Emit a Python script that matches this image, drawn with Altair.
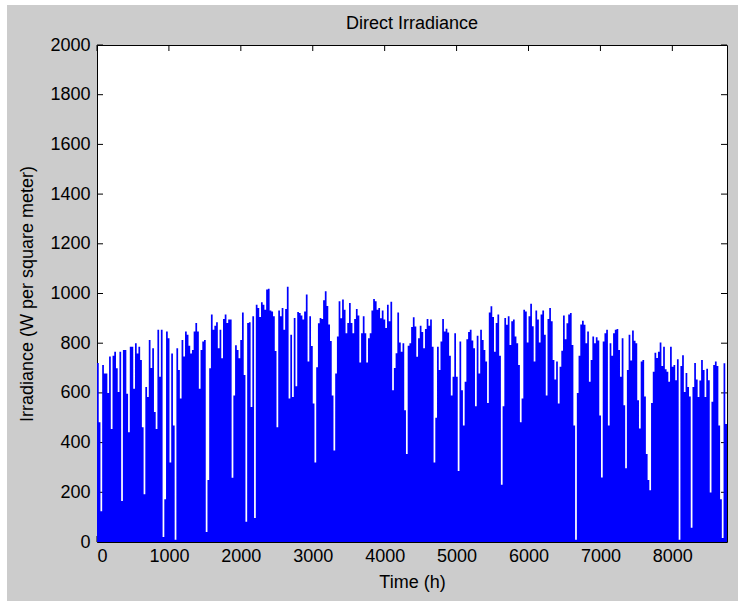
import altair as alt
import pandas as pd

# Daily peak of direct irradiance (W per square meter), one value per day,
# split into blocks of consecutive days.
days_000_057 = [720, 482, 124, 712, 678, 678, 600, 746, 455, 749, 766, 699, 604, 766, 165,
                773, 773, 597, 442, 786, 786, 617, 800, 759, 786, 732, 462, 192, 624, 584,
                813, 700, 780, 523, 455, 854, 665, 854, 20, 172, 847, 820, 320, 759, 469,
                9, 780, 692, 577, 813, 746, 847, 834, 790, 759, 773, 847, 881]
days_058_119 = [847, 617, 773, 807, 813, 40, 249, 699, 915, 854, 870, 884, 780, 854, 739,
                897, 915, 881, 895, 895, 259, 590, 792, 773, 739, 813, 924, 672, 81, 881,
                884, 543, 908, 97, 955, 942, 905, 965, 955, 935, 1016, 1019, 932, 928, 908,
                769, 462, 932, 908, 942, 854, 938, 1027, 577, 834, 584, 901, 627, 926, 922,
                911, 895]
days_120_180 = [928, 996, 726, 908, 789, 557, 320, 703, 880, 901, 897, 973, 1009, 950, 875,
                809, 590, 368, 678, 827, 969, 900, 976, 935, 840, 881, 962, 881, 840, 897,
                938, 911, 722, 840, 908, 840, 722, 820, 840, 932, 978, 969, 935, 942, 900,
                932, 895, 861, 955, 888, 967, 611, 700, 760, 924, 803, 766, 800, 530, 354,
                790]
days_181_241 = [800, 865, 904, 867, 745, 820, 870, 845, 780, 857, 897, 870, 895, 786, 320,
                500, 786, 692, 807, 897, 847, 858, 843, 749, 590, 665, 840, 665, 286, 807,
                611, 469, 645, 816, 845, 854, 811, 780, 546, 830, 678, 854, 813, 773, 726,
                559, 924, 949, 905, 766, 881, 915, 749, 230, 546, 901, 874, 908, 793, 888,
                895]
days_242_302 = [827, 800, 712, 482, 577, 935, 928, 803, 908, 959, 868, 726, 932, 895, 803,
                915, 932, 834, 590, 897, 942, 888, 732, 654, 726, 557, 705, 770, 911, 816,
                880, 915, 922, 793, 469, 9, 600, 749, 875, 890, 874, 800, 847, 645, 732,
                827, 800, 824, 811, 509, 260, 807, 840, 854, 469, 800, 749, 840, 854, 857,
                773]
days_303_364 = [665, 820, 550, 297, 692, 834, 730, 851, 810, 800, 570, 457, 726, 732, 586,
                354, 250, 208, 559, 685, 762, 740, 766, 803, 708, 786, 695, 685, 645, 786,
                705, 712, 651, 735, 9, 708, 752, 604, 680, 624, 586, 57, 624, 720, 654,
                584, 650, 732, 692, 584, 697, 651, 199, 564, 712, 726, 708, 469, 172, 16,
                719, 475]

y_ticks = [0, 200, 400, 600, 800, 1000, 1200, 1400, 1600, 1800, 2000]
x_ticks = [0, 1000, 2000, 3000, 4000, 5000, 6000, 7000, 8000]

daily = (days_000_057 + days_058_119 + days_120_180 +
         days_181_241 + days_242_302 + days_303_364)
# each day's value holds for 24 hours; a closing point ends the year at hour 8760
hours = [24 * d for d in range(len(daily))] + [24 * len(daily)]
values = daily + [daily[-1]]
df = pd.DataFrame({"hour": hours, "irr": values})

W, H = 630, 497
FONT = "Liberation Sans"

x_scale = alt.Scale(domain=[0, 8760], nice=False, zero=False)
y_scale = alt.Scale(domain=[0, 2000], nice=False)
x_axis = alt.Axis(values=x_ticks, title="Time (h)", labelPadding=5,
                  titlePadding=8, format="d")
y_axis = alt.Axis(values=y_ticks, title="Irradiance (W per square meter)",
                  labelPadding=7, titlePadding=13, format="d")
X = alt.X("hour:Q", scale=x_scale, axis=x_axis)
Y = alt.Y("irr:Q", scale=y_scale, axis=y_axis)

area = alt.Chart(df).mark_area(
    color="#0000ff", interpolate="step-after", clip=True
).encode(x=X, y=Y)

xt = pd.DataFrame({"hour": x_ticks})
yt = pd.DataFrame({"irr": y_ticks})
tick_len = 6
tick_style = dict(color="black", strokeWidth=1)

# inward tick marks on all four sides, drawn beneath the data
ticks_bottom = alt.Chart(xt).mark_rule(**tick_style).encode(
    x=X, y=alt.value(H - tick_len), y2=alt.value(H))
ticks_top = alt.Chart(xt).mark_rule(**tick_style).encode(
    x=X, y=alt.value(0), y2=alt.value(tick_len))
ticks_left = alt.Chart(yt).mark_rule(**tick_style).encode(
    y=Y, x=alt.value(0), x2=alt.value(tick_len))
ticks_right = alt.Chart(yt).mark_rule(**tick_style).encode(
    y=Y, x=alt.value(W - tick_len), x2=alt.value(W))

# thin white strips along the left and top edges of the figure window
edge = pd.DataFrame({"k": [0]})
edge_left = alt.Chart(edge).mark_rect(color="white").encode(
    x=alt.value(-97), x2=alt.value(-90), y=alt.value(-45), y2=alt.value(H + 59))
edge_top = alt.Chart(edge).mark_rect(color="white").encode(
    x=alt.value(-97), x2=alt.value(W + 11), y=alt.value(-45), y2=alt.value(-40))

chart = alt.layer(
    edge_left, edge_top, ticks_bottom, ticks_top, ticks_left, ticks_right, area
).properties(
    width=W, height=H,
    title=alt.Title("Direct Irradiance", anchor="middle", offset=-33),
    padding={"left": 97, "top": 45, "right": 11, "bottom": 59},
    autosize=alt.AutoSizeParams(type="none"),
    background="#cccccc",
).configure_view(
    stroke="black", strokeWidth=1, fill="white"
).configure_axis(
    labelFont=FONT, labelFontSize=18, labelColor="black",
    titleFont=FONT, titleFontSize=18, titleFontWeight="normal", titleColor="black",
    ticks=False, domain=False, grid=False,
).configure_title(
    font=FONT, fontSize=18, fontWeight="normal", color="black"
)

chart.save("out.html", embed_options={"renderer": "svg", "actions": False})
